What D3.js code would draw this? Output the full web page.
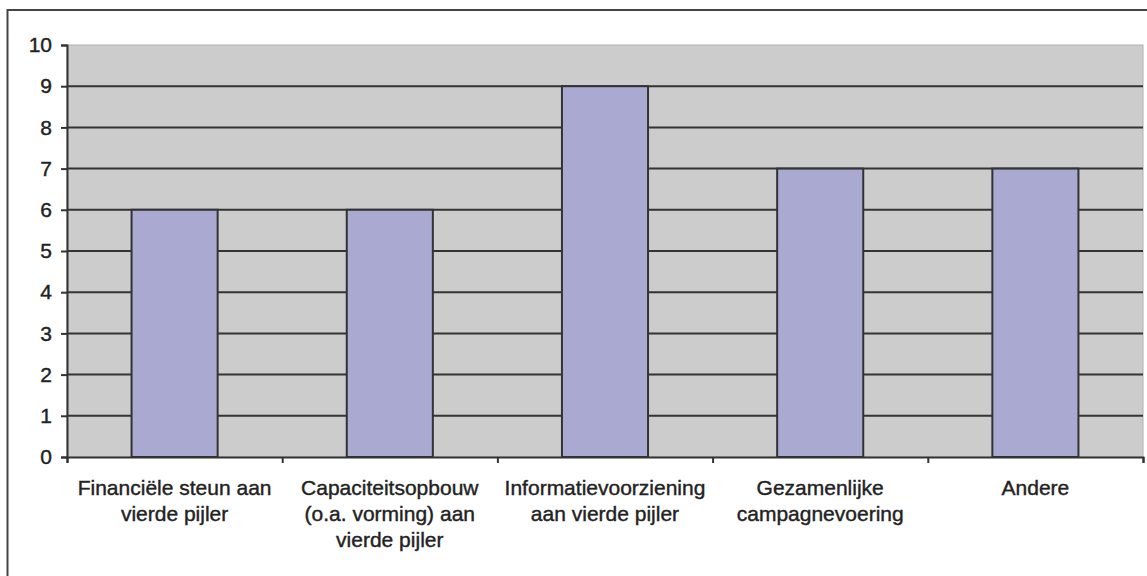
<!DOCTYPE html>
<html>
<head>
<meta charset="utf-8">
<script src="https://cdn.jsdelivr.net/npm/d3@7"></script>
<style>
  html, body { margin: 0; padding: 0; background: #fff; }
  svg { display: block; }
  text { font-family: "Liberation Sans", Arial, sans-serif; fill: #222; stroke: #222; stroke-width: 0.4px; }
</style>
</head>
<body>
<div id="chart"></div>
<script>
// chart data
const categories = [
  ['Financiële steun aan', 'vierde pijler'],
  ['Capaciteitsopbouw', '(o.a. vorming) aan', 'vierde pijler'],
  ['Informatievoorziening', 'aan vierde pijler'],
  ['Gezamenlijke', 'campagnevoering'],
  ['Andere']
];
const values = [6, 6, 9, 7, 7];
const yTicks = [0, 1, 2, 3, 4, 5, 6, 7, 8, 9, 10];

const width = 1147;
const height = 576;
const plot = { left: 67, right: 1143, top: 45, bottom: 457 };

const svg = d3.select('#chart')
  .append('svg')
  .attr('width', width)
  .attr('height', height);

// outer frame (runs off the picture on the right and bottom)
svg.append('rect')
  .attr('x', 7.5)
  .attr('y', 10)
  .attr('width', width + 20)
  .attr('height', height + 20)
  .attr('fill', 'none')
  .attr('stroke', '#444')
  .attr('stroke-width', 2);

const keys = categories.map((d, i) => i);

const x = d3.scaleBand()
  .domain(keys)
  .range([plot.left, plot.right])
  .paddingInner(0.6)
  .paddingOuter(0.3);

const xEdges = d3.scaleLinear()
  .domain([0, categories.length])
  .range([plot.left, plot.right]);

const y = d3.scaleLinear()
  .domain([0, 10])
  .range([plot.bottom, plot.top]);

// plot background
svg.append('rect')
  .attr('x', plot.left)
  .attr('y', plot.top)
  .attr('width', plot.right - plot.left)
  .attr('height', plot.bottom - plot.top)
  .attr('fill', '#cccccc')
  .attr('stroke', '#b0b0b0')
  .attr('stroke-width', 1);

// gridlines
svg.append('g')
  .selectAll('line')
  .data(yTicks.filter(d => d > 0 && d < 10))
  .enter()
  .append('line')
  .attr('x1', plot.left)
  .attr('x2', plot.right)
  .attr('y1', d => y(d))
  .attr('y2', d => y(d))
  .attr('stroke', '#333')
  .attr('stroke-width', 2);

// bars
svg.append('g')
  .selectAll('rect')
  .data(values)
  .enter()
  .append('rect')
  .attr('x', (d, i) => x(i))
  .attr('y', d => y(d))
  .attr('width', x.bandwidth())
  .attr('height', d => y(0) - y(d))
  .attr('fill', '#a9a9d1')
  .attr('stroke', '#333')
  .attr('stroke-width', 2);

// y axis
const yAxis = svg.append('g')
  .attr('transform', `translate(${plot.left},0)`)
  .call(d3.axisLeft(y).tickValues(yTicks).tickSize(6).tickPadding(9));
yAxis.select('.domain').attr('stroke', '#333').attr('stroke-width', 2);
yAxis.selectAll('.tick line').attr('stroke', '#333').attr('stroke-width', 2);
yAxis.selectAll('.tick text')
  .style('font-size', '21px')
  .style('font-family', '"Liberation Sans", Arial, sans-serif')
  .attr('fill', '#222');

// x axis (ticks between categories)
const xAxis = svg.append('g')
  .attr('transform', `translate(0,${plot.bottom})`)
  .call(d3.axisBottom(xEdges).ticks(categories.length).tickSize(6).tickFormat(''));
xAxis.select('.domain').attr('stroke', '#333').attr('stroke-width', 2);
xAxis.selectAll('.tick line').attr('stroke', '#333').attr('stroke-width', 2);

// category labels
const labels = svg.append('g')
  .selectAll('text')
  .data(categories)
  .enter()
  .append('text')
  .attr('text-anchor', 'middle')
  .attr('x', (d, i) => x(i) + x.bandwidth() / 2)
  .attr('y', 495)
  .style('font-size', '21px');

labels.selectAll('tspan')
  .data((d, i) => d.map(line => ({ line, i })))
  .enter()
  .append('tspan')
  .attr('x', d => x(d.i) + x.bandwidth() / 2)
  .attr('dy', (d, j) => j === 0 ? 0 : 26)
  .text(d => d.line);
</script>
</body>
</html>
